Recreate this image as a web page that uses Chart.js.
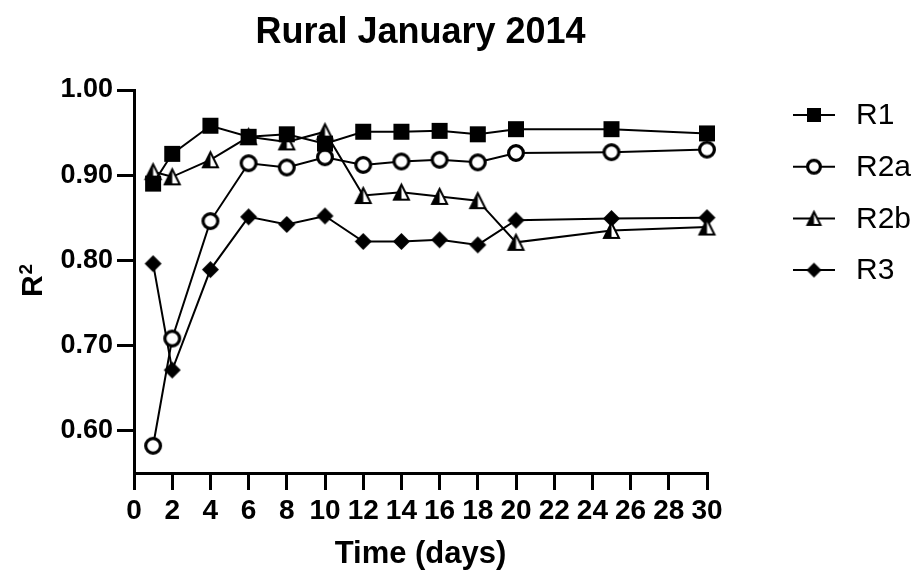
<!DOCTYPE html>
<html>
<head>
<meta charset="utf-8">
<title>Rural January 2014</title>
<script src="https://cdn.jsdelivr.net/npm/chart.js@4.4.1/dist/chart.umd.min.js"></script>
<style>
  html, body { margin: 0; padding: 0; background: #fff; }
  #wrap { width: 915px; height: 578px; position: relative; }
</style>
</head>
<body>
<div id="wrap"><canvas id="chart"></canvas></div>
<script>
// sampling days
const days = [1, 2, 4, 6, 8, 10, 12, 14, 16, 18, 20, 25, 30];

// R² per model
const r1  = [0.890, 0.925, 0.958, 0.945, 0.948, 0.937, 0.951, 0.951, 0.952, 0.948, 0.954, 0.954, 0.949];
const r2a = [0.582, 0.708, 0.846, 0.914, 0.909, 0.921, 0.912, 0.916, 0.918, 0.915, 0.926, 0.927, 0.930];
const r2b = [0.904, 0.898, 0.918, 0.945, 0.939, 0.951, 0.876, 0.880, 0.875, 0.870, 0.821, 0.835, 0.839];
const r3  = [0.796, 0.671, 0.789, 0.851, 0.842, 0.852, 0.822, 0.822, 0.824, 0.818, 0.847, 0.849, 0.850];

const seriesNames = ['R1', 'R2a', 'R2b', 'R3'];
const markerKinds = ['square', 'circle', 'halfTriangle', 'diamond'];

const xTicks = [0, 2, 4, 6, 8, 10, 12, 14, 16, 18, 20, 22, 24, 26, 28, 30];
const yTicks = [0.60, 0.70, 0.80, 0.90, 1.00];

const FONT = "Arial, 'Liberation Sans', Helvetica, sans-serif";

// small offscreen canvases used as point styles
function makeMarker(kind, size) {
    const pad = 2;
    const c = document.createElement('canvas');
    c.width = c.height = size + pad * 2;
    const g = c.getContext('2d');
    const m = c.width / 2;
    const h = size / 2;
    g.fillStyle = '#000';
    g.strokeStyle = '#000';

    if (kind === 'square') {
        g.fillRect(pad, pad, size, size);
    } else if (kind === 'circle') {
        g.lineWidth = 3.2;
        g.beginPath();
        g.arc(m, m, h - 1.6, 0, Math.PI * 2);
        g.fillStyle = '#fff';
        g.fill();
        g.stroke();
    } else if (kind === 'diamond') {
        g.beginPath();
        g.moveTo(m, pad);
        g.lineTo(m + h, m);
        g.lineTo(m, m + h);
        g.lineTo(m - h, m);
        g.closePath();
        g.fill();
    } else {
        // triangle, left half filled
        const top = pad + 1, bot = pad + size - 1;
        g.beginPath();
        g.moveTo(m, top);
        g.lineTo(pad + 1, bot);
        g.lineTo(pad + size - 1, bot);
        g.closePath();
        g.fillStyle = '#fff';
        g.fill();
        g.beginPath();
        g.moveTo(m, top);
        g.lineTo(pad + 1, bot);
        g.lineTo(m, bot);
        g.closePath();
        g.fillStyle = '#000';
        g.fill();
        g.lineWidth = 2;
        g.lineJoin = 'miter';
        g.beginPath();
        g.moveTo(m, top);
        g.lineTo(pad + 1, bot);
        g.lineTo(pad + size - 1, bot);
        g.closePath();
        g.stroke();
    }
    return c;
}

const pointSizes = { square: 16, circle: 18, halfTriangle: 17, diamond: 17 };
const chartMarkers = markerKinds.map(k => makeMarker(k, pointSizes[k]));
const legendMarkers = markerKinds.map(k => makeMarker(k, pointSizes[k] - 2));

const seriesValues = [r1, r2a, r2b, r3];

const datasets = seriesValues.map((vals, i) => ({
    label: seriesNames[i],
    data: days.map((d, j) => ({ x: d, y: vals[j] })),
    borderColor: '#000',
    backgroundColor: '#000',
    borderWidth: 2,
    tension: 0,
    pointStyle: chartMarkers[i],
    pointRadius: 8,
    clip: false
}));

// legend on the right: line with marker, then name
const sideLegend = {
    id: 'sideLegend',
    afterDraw(chart) {
        const ctx = chart.ctx;
        const x0 = 793, x1 = 835, textX = 856;
        ctx.save();
        ctx.font = '30px ' + FONT;
        ctx.fillStyle = '#000';
        ctx.strokeStyle = '#000';
        ctx.textBaseline = 'middle';
        seriesNames.forEach((name, i) => {
            const y = 115 + i * 51.7;
            ctx.lineWidth = 2;
            ctx.beginPath();
            ctx.moveTo(x0, y);
            ctx.lineTo(x1, y);
            ctx.stroke();
            const img = legendMarkers[i];
            ctx.drawImage(img, (x0 + x1) / 2 - img.width / 2, y - img.height / 2);
            ctx.fillText(name, textX, y + 1);
        });
        ctx.restore();
    }
};

// y axis title with a real superscript
const yTitle = {
    id: 'yTitle',
    afterDraw(chart) {
        const ctx = chart.ctx;
        const area = chart.chartArea;
        ctx.save();
        ctx.fillStyle = '#000';
        ctx.textBaseline = 'alphabetic';
        ctx.textAlign = 'left';
        const big = 'bold 30px ' + FONT;
        const small = 'bold 19px ' + FONT;
        ctx.font = big;
        const wR = ctx.measureText('R').width;
        ctx.font = small;
        const w2 = ctx.measureText('2').width;
        const total = wR + 1 + w2;
        const cy = (area.top + area.bottom) / 2 - 1;
        ctx.translate(42, cy + total / 2);
        ctx.rotate(-Math.PI / 2);
        ctx.font = big;
        ctx.fillText('R', 0, 0);
        ctx.font = small;
        ctx.fillText('2', wR + 1, -10);
        ctx.restore();
    }
};

Chart.defaults.color = '#000';
Chart.defaults.font.family = FONT;

new Chart(document.getElementById('chart'), {
    type: 'line',
    data: { datasets: datasets },
    options: {
        responsive: true,
        maintainAspectRatio: false,
        animation: false,
        events: [],
        layout: { padding: { left: 0, right: 208, top: 0, bottom: 0 } },
        plugins: {
            legend: { display: false },
            tooltip: { enabled: false },
            title: {
                display: true,
                fullSize: false,
                text: 'Rural January 2014',
                color: '#000',
                font: { size: 36, weight: 'bold' },
                padding: { top: 11, bottom: 35.8 }
            }
        },
        scales: {
            x: {
                type: 'linear',
                min: 0,
                max: 30,
                afterBuildTicks: scale => { scale.ticks = xTicks.map(v => ({ value: v })); },
                afterFit: scale => { scale.height = 105; },
                border: { display: true, color: '#000', width: 3 },
                grid: { drawOnChartArea: false, drawTicks: true, tickLength: 17, color: '#000', lineWidth: 3 },
                ticks: {
                    color: '#000',
                    padding: 4,
                    maxRotation: 0,
                    autoSkip: false,
                    font: { size: 28, weight: 'bold' }
                },
                title: {
                    display: true,
                    text: 'Time (days)',
                    color: '#000',
                    font: { size: 31, weight: 'bold' },
                    padding: { top: 0, bottom: 5 }
                }
            },
            y: {
                type: 'linear',
                min: 0.55,
                max: 1.00,
                afterBuildTicks: scale => { scale.ticks = yTicks.map(v => ({ value: v })); },
                afterFit: scale => { scale.width = 134; },
                border: { display: true, color: '#000', width: 3 },
                grid: { drawOnChartArea: false, drawTicks: true, tickLength: 17, color: '#000', lineWidth: 3 },
                ticks: {
                    color: '#000',
                    padding: 4,
                    autoSkip: false,
                    font: { size: 27, weight: 'bold' },
                    callback: v => v.toFixed(2)
                }
            }
        }
    },
    plugins: [sideLegend, yTitle]
});
</script>
</body>
</html>
